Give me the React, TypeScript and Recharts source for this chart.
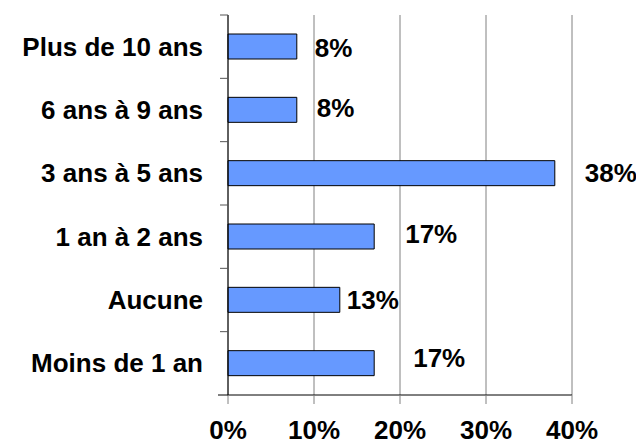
import React from 'react';
import { BarChart, Bar, XAxis, YAxis, CartesianGrid, LabelList } from 'recharts';

const categories = ['Plus de 10 ans', '6 ans à 9 ans', '3 ans à 5 ans', '1 an à 2 ans', 'Aucune', 'Moins de 1 an'];
const shares = [8, 8, 38, 17, 13, 17];
const xTicks = [0, 10, 20, 30, 40];
// small hand nudges of the value labels, as placed in the original
const labelNudge = [
  [0, 1], [2, -2], [12, 0], [13, -3], [-11, 0], [21, -5],
];

const data = categories.map((name, i) => ({ name, value: shares[i] }));

const FONT = '"Liberation Sans", Arial, sans-serif';
const textStyle = { fontFamily: FONT, fontSize: 26, fontWeight: 700, fill: '#000' };

const CategoryTick = (props: any) => {
  const { x, y, payload, index } = props;
  const half = payload?.offset ?? 0;
  const last = index === categories.length - 1;
  return (
    <g>
      <line x1={x + 25} x2={x + 17} y1={y - half} y2={y - half} stroke="#555" />
      {last && <line x1={x + 25} x2={x + 15} y1={y + half} y2={y + half} stroke="#000" />}
      <text x={x} y={y} dy="0.35em" textAnchor="end" style={textStyle}>
        {payload.value}
      </text>
    </g>
  );
};

const ValueLabel = (props: any) => {
  const { x, y, width, height, value, index } = props;
  const [dx, dy] = labelNudge[index] || [0, 0];
  return (
    <text x={x + width + 18 + dx} y={y + height / 2 + dy} dy="0.35em" textAnchor="start" style={textStyle}>
      {`${value}%`}
    </text>
  );
};

const App: React.FC = () => {
  return (
    <div style={{ margin: -8, background: '#fff', width: 644, height: 448 }}>
      <BarChart
        width={644}
        height={448}
        data={data}
        layout="vertical"
        margin={{ top: 15, right: 72, bottom: 0, left: 0 }}
      >
        <CartesianGrid horizontal={false} vertical stroke="#808080" strokeWidth={1} />
        <XAxis
          type="number"
          domain={[0, 40]}
          ticks={xTicks}
          tickFormatter={(v: number) => `${v}%`}
          height={53}
          tickSize={9}
          tickMargin={17}
          axisLine={{ stroke: '#000' }}
          tickLine={{ stroke: '#808080' }}
          tick={textStyle}
          interval={0}
        />
        <YAxis
          type="category"
          dataKey="name"
          width={228}
          tickSize={0}
          tickMargin={25}
          axisLine={{ stroke: '#000' }}
          tickLine={false}
          tick={<CategoryTick />}
          interval={0}
        />
        <Bar dataKey="value" barSize={25} fill="#6699FF" stroke="#000" strokeWidth={1} isAnimationActive={false}>
          <LabelList dataKey="value" content={<ValueLabel />} />
        </Bar>
      </BarChart>
    </div>
  );
};

export default App;
